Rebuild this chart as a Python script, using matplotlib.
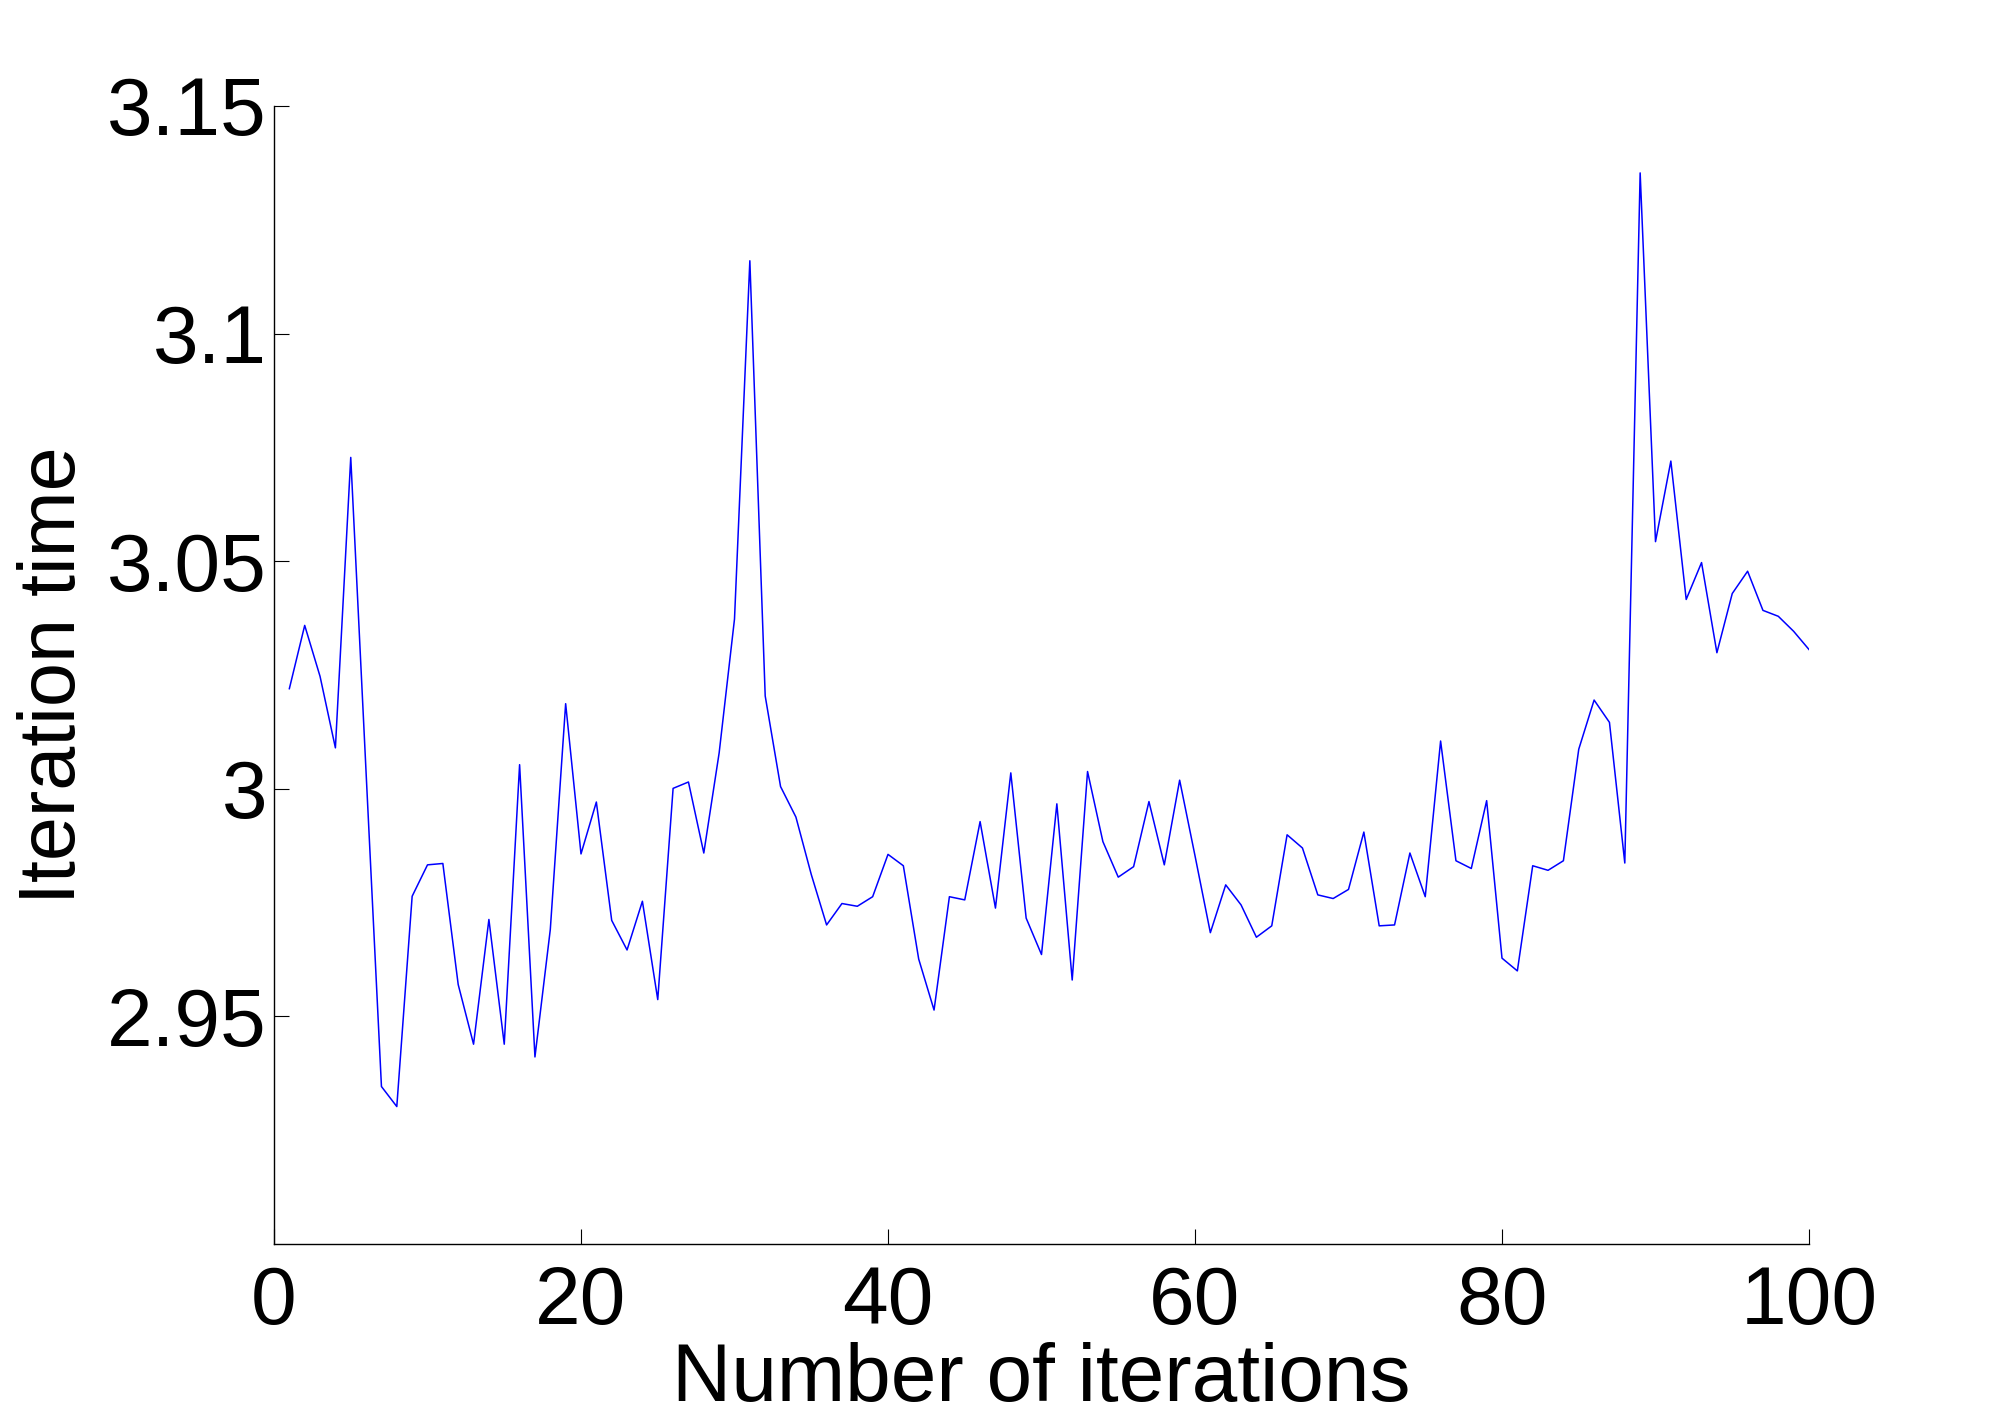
import numpy as np
import matplotlib
matplotlib.use('Agg')
import matplotlib.pyplot as plt

plt.rcParams['font.family'] = ['Liberation Sans', 'DejaVu Sans']

# iteration number and measured time per iteration
iterations = np.arange(1, 101)
iter_time = [3.0220, 3.0359, 3.0247, 3.0090, 3.0728, 3.0035, 2.9346, 2.9302, 2.9764, 2.9833,
             2.9836, 2.9570, 2.9439, 2.9713, 2.9439, 3.0053, 2.9411, 2.9691, 3.0187, 2.9857,
             2.9971, 2.9711, 2.9646, 2.9753, 2.9537, 3.0001, 3.0015, 2.9859, 3.0079, 3.0373,
             3.1160, 3.0204, 3.0005, 2.9938, 2.9812, 2.9701, 2.9748, 2.9742, 2.9763, 2.9856,
             2.9831, 2.9626, 2.9514, 2.9763, 2.9756, 2.9928, 2.9738, 3.0035, 2.9716, 2.9636,
             2.9967, 2.9580, 3.0038, 2.9884, 2.9806, 2.9829, 2.9972, 2.9833, 3.0019, 2.9853,
             2.9684, 2.9789, 2.9745, 2.9674, 2.9699, 2.9899, 2.9870, 2.9767, 2.9759, 2.9779,
             2.9905, 2.9699, 2.9701, 2.9859, 2.9763, 3.0105, 2.9842, 2.9825, 2.9974, 2.9628,
             2.9600, 2.9831, 2.9821, 2.9842, 3.0087, 3.0195, 3.0146, 2.9837, 3.1353, 3.0543,
             3.0720, 3.0416, 3.0497, 3.0299, 3.0429, 3.0478, 3.0392, 3.0379, 3.0346, 3.0306]

x_ticks = [0, 20, 40, 60, 80, 100]
y_ticks = [2.95, 3.0, 3.05, 3.1, 3.15]
y_tick_labels = ['2.95', '3', '3.05', '3.1', '3.15']

fig = plt.figure(figsize=(20, 14.19), dpi=100)
ax = fig.add_axes([0.137, 0.1233, 0.7675, 0.802])

ax.plot(iterations, iter_time, color=(0, 0, 1), linewidth=1.1)

ax.set_xlim(0, 100)
ax.set_ylim(2.9, 3.15)
ax.set_xticks(x_ticks)
ax.set_yticks(y_ticks)
ax.set_yticklabels(y_tick_labels)

# matlab-like axes: no box, ticks pointing in
ax.spines['top'].set_visible(False)
ax.spines['right'].set_visible(False)
ax.spines['left'].set_linewidth(1.0)
ax.spines['bottom'].set_linewidth(1.0)
ax.tick_params(axis='both', direction='in', length=11, width=0.8, labelsize=59)
ax.tick_params(axis='y', pad=5)
ax.tick_params(axis='x', pad=15)

ax.set_xlabel('Number of iterations', fontsize=59, labelpad=1)
ax.set_ylabel('Iteration time', fontsize=57, labelpad=11)

fig.savefig('out.png', dpi=100)
